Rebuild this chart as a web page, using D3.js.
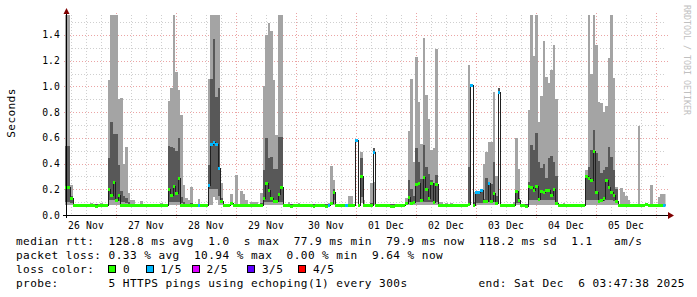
<!DOCTYPE html>
<html><head><meta charset="utf-8">
<script src="https://cdn.jsdelivr.net/npm/d3@7"></script>
<style>
html,body{margin:0;padding:0;background:#fff;}
svg{display:block;font-family:"DejaVu Sans Mono",monospace;}
</style></head><body>
<svg id="c" width="697" height="297"></svg>
<script>
// ---- data ----
const dayLabels = ["26 Nov","27 Nov","28 Nov","29 Nov","30 Nov","01 Dec","02 Dec","03 Dec","04 Dec","05 Dec"];
const yTickValues = [0.0,0.2,0.4,0.6,0.8,1.0,1.2,1.4];
const yTickLabels = ["0.0","0.2","0.4","0.6","0.8","1.0","1.2","1.4"];
const firstHour = 3.6; // first hourly bucket, hours after 26 Nov 00:00

const ping1 = [
.075,.075,.075,.076,.076,.076,.076,.076,.076,.076,
.076,.076,.076,.076,.076,.076,.076,.08,.08,.08,
.08,.08,.08,.08,.08,.078,.076,.076,.076,.076,
.076,.076,.076,.076,.076,.076,.076,.076,.076,.076,
.076,.08,.08,.08,.08,.08,.08,.076,.076,.076,
.076,.076,.076,.076,.076,.076,.076,.08,.08,.14,
.12,.08,.08,.076,.076,.076,.076,.076,.076,.076,
.076,.076,.076,.076,.076,.076,.076,.076,.076,.08,
.08,.08,.08,.08,.08,.08,.08,.076,.076,.076,
.076,.076,.076,.076,.076,.076,.076,.076,.076,.076,
.076,.076,.076,.076,.076,.076,.08,.08,.076,.076,
.076,.076,.076,.076,.076,.076,.58,.076,.09,.076,
.076,.076,.076,.08,.076,.076,.076,.076,.076,.076,
.076,.076,.076,.076,.076,.076,.076,.08,.08,.08,
.08,.08,.08,.08,.08,.08,.08,.08,.08,.076,
.076,.076,.076,.076,.076,.076,.076,.076,.076,.076,
.076,.075,1.0,.076,.08,.08,.08,.08,.08,.08,
.08,.08,.08,.95,.076,.076,.076,.076,.076,.076,
.08,.08,.076,.076,.076,.08,.08,.08,.08,.08,
.08,.08,.08,.08,.08,.08,.08,.076,.076,.076,
.076,.076,.076,.076,.076,.076,.076,.076,.08,.08,
.08,.08,.08,.08,.08,.08,.08,.08,.08,.08,
.08,.076,.076,.076,.076,.076,.076,.076,.076,.076,
.076,.076,.076,.076,.076,.076,.076,.076,.076,.076,
.076];
const ping2 = [
.10,.10,.09,.078,.078,.078,.078,.078,.078,.078,
.078,.078,.078,.078,.078,.078,.078,.12,.12,.12,
.11,.11,.10,.10,.09,.085,.078,.078,.078,.078,
.078,.078,.078,.078,.078,.078,.078,.078,.078,.078,
.078,.10,.10,.10,.10,.10,.09,.078,.078,.078,
.078,.078,.078,.078,.078,.078,.078,.20,.20,.20,
.20,.15,.09,.078,.078,.078,.078,.078,.078,.078,
.078,.078,.078,.078,.078,.078,.078,.078,.078,.10,
.10,.10,.10,.10,.10,.10,.10,.078,.078,.078,
.078,.078,.078,.078,.078,.078,.078,.078,.078,.078,
.078,.078,.078,.078,.078,.078,.085,.12,.078,.078,
.078,.078,.078,.078,.078,.078,.58,.078,.14,.078,
.078,.078,.078,.49,.078,.078,.078,.078,.078,.078,
.078,.078,.078,.078,.078,.078,.078,.10,.09,.09,
.10,.10,.10,.10,.10,.10,.10,.09,.10,.078,
.078,.078,.078,.078,.078,.078,.078,.078,.078,.078,
.078,.08,1.0,.078,.09,.09,.09,.09,.10,.10,
.10,.10,.09,.946,.078,.078,.078,.078,.078,.078,
.09,.09,.078,.078,.078,.12,.12,.12,.12,.12,
.12,.12,.12,.12,.12,.12,.10,.078,.078,.078,
.078,.078,.078,.078,.078,.078,.078,.078,.12,.12,
.12,.12,.12,.11,.11,.11,.12,.12,.12,.11,
.09,.078,.078,.078,.078,.078,.078,.078,.078,.078,
.078,.078,.078,.078,.078,.078,.078,.078,.078,.078,
.078];
const median = [
.22,.22,.13,.08,.08,.08,.08,.08,.08,.08,
.08,.08,.072,.08,.075,.08,.08,.20,.155,.26,
.117,.155,.08,.08,.08,.08,.08,.08,.08,.08,
.08,.08,.08,.08,.075,.08,.08,.08,.08,.08,
.08,.20,.155,.225,.17,.285,.08,.08,.08,.08,
.08,.08,.08,.08,.08,.08,.08,.233,.555,.57,
.55,.365,.11,.08,.08,.08,.095,.08,.08,.08,
.08,.08,.08,.08,.08,.08,.08,.08,.08,.13,
.25,.195,.13,.105,.105,.163,.215,.08,.08,.08,
.072,.08,.08,.08,.08,.08,.08,.08,.08,.072,
.08,.08,.08,.08,.072,.08,.09,.18,.08,.08,
.08,.08,.08,.08,.08,.08,.585,.08,.305,.08,
.08,.08,.08,.49,.08,.08,.08,.08,.08,.08,
.072,.072,.08,.08,.08,.08,.09,.137,.09,.10,
.24,.25,.12,.293,.20,.13,.25,.10,.24,.08,
.08,.08,.08,.08,.08,.08,.08,.08,.08,.08,
.08,.085,1.01,.08,.176,.176,.195,.11,.11,.25,
.11,.17,.09,.96,.08,.08,.08,.08,.08,.08,
.185,.12,.08,.08,.07,.225,.22,.195,.228,.125,
.19,.18,.195,.195,.155,.205,.09,.08,.08,.08,
.08,.08,.08,.075,.08,.08,.08,.08,.30,.29,
.27,.50,.18,.11,.12,.135,.27,.22,.18,.157,
.11,.08,.08,.08,.08,.08,.08,.08,.08,.08,
.08,.08,.085,.08,.08,.08,.08,.08,.08,.08,
.08];
const ping4 = [
.54,.54,.15,.082,.082,.082,.082,.082,.082,.082,
.082,.082,.082,.082,.082,.082,.082,.44,.72,.63,
.63,.39,.19,.15,.13,.10,.082,.082,.082,.082,
.082,.082,.082,.082,.082,.082,.082,.082,.082,.082,
.082,.54,.53,.52,.50,.60,.14,.10,.082,.082,
.09,.082,.082,.082,.082,.082,.082,.39,1.06,1.37,
.92,.99,.13,.082,.082,.082,.082,.082,.082,.082,
.082,.082,.082,.082,.082,.082,.082,.082,.09,.35,
.60,.44,.45,.36,.36,.61,.61,.082,.082,.082,
.082,.082,.082,.082,.082,.082,.082,.082,.082,.082,
.082,.082,.082,.082,.082,.082,.10,.20,.082,.082,
.082,.082,.082,.082,.082,.082,.59,.082,.44,.082,
.082,.082,.09,.52,.082,.082,.082,.082,.082,.082,
.082,.082,.082,.082,.082,.082,.082,.27,.20,.15,
.52,.415,.28,.545,.375,.32,.27,.25,.31,.082,
.082,.082,.082,.082,.082,.082,.082,.082,.082,.082,
.082,.37,1.01,.10,.18,.18,.20,.125,.285,.24,
.24,.41,.15,.985,.082,.082,.082,.082,.082,.082,
.195,.13,.082,.082,.082,.255,.545,.505,.635,.415,
.363,.40,.285,.44,.46,.41,.30,.082,.082,.082,
.082,.082,.082,.082,.082,.082,.082,.082,.30,.376,
.505,.66,.48,.42,.33,.35,.375,.53,.45,.35,
.20,.082,.082,.082,.082,.082,.082,.082,.082,.082,
.082,.082,.082,.082,.082,.082,.082,.082,.082,.082,
.082];
const ping5 = [
1.6,1.6,.23,.086,.086,.086,.086,.086,.086,.086,
.095,.086,.086,.086,.09,.086,.086,1.05,1.6,1.6,
1.6,.90,.91,.40,.53,.17,.12,.12,.086,.086,
.105,.086,.086,.086,.086,.086,.086,.086,.092,.086,
.086,.89,.985,1.6,1.11,.97,.78,.23,.13,.12,
.22,.086,.086,.125,.086,.086,.086,1.06,1.6,1.6,
1.6,1.6,.25,.086,.086,.086,.165,.086,.31,.086,
.19,.165,.12,.086,.10,.10,.10,.086,.17,1.0,
1.40,1.49,1.43,1.05,.62,1.6,1.6,.086,.086,.10,
.086,.086,.086,.09,.086,.086,.086,.086,.086,.086,
.086,.086,.086,.086,.086,.09,.38,.27,.086,.086,
.086,.086,.086,.145,.145,.086,.59,.086,.49,.12,
.086,.086,.25,.26,.086,.086,.086,.086,.086,.086,
.086,.086,.086,.086,.086,.086,.13,.655,1.06,.415,
1.23,.88,.55,1.375,.93,.75,.505,.52,1.29,.10,
.10,.086,.095,.086,.09,.086,.086,.086,.086,.086,
.086,1.17,1.01,.175,.18,.16,.20,.40,.49,.57,
.57,.96,.30,.985,.086,.086,.086,.086,.086,.10,
.60,.355,.086,.086,.086,.82,1.6,1.236,1.6,.725,
.925,1.35,1.075,1.03,1.13,1.32,.90,.086,.086,.095,
.086,.086,.086,.086,.086,.086,.086,.086,.35,1.6,
1.10,1.6,1.32,.88,.87,.80,.85,1.22,1.6,1.063,
.22,.086,.21,.18,.15,.12,.086,.086,.086,.69,
.086,.086,.086,.086,.233,.086,.086,.14,.165,.165,
.165];
const loss = [
0,0,0,0,0,0,0,0,0,0, 0,0,0,0,0,0,0,0,0,0,
0,0,0,0,0,0,0,0,0,0, 0,0,0,0,0,0,0,0,0,0,
0,0,0,0,0,0,0,0,0,0, 0,0,0,1,0,0,0,1,1,1,
1,1,0,0,0,0,0,0,0,0, 0,0,0,0,0,0,0,0,0,0,
0,0,0,0,0,0,0,0,0,0, 0,0,0,0,0,0,0,0,0,0,
0,0,0,0,0,1,0,0,0,0, 0,0,1,0,0,0,1,0,0,0,
0,0,0,1,0,0,0,0,0,0, 0,0,0,0,0,0,0,0,0,0,
0,0,0,0,0,0,0,0,0,0, 0,0,0,0,0,0,0,0,0,0,
0,0,1,0,1,1,1,0,0,1, 0,0,0,1,0,0,0,0,0,0,
0,0,0,0,0,0,0,0,0,0, 0,0,0,0,0,0,0,0,0,0,
0,0,0,0,0,0,0,0,0,0, 0,0,0,0,0,0,0,0,0,0,
0,0,0,0,0,0,0,0,0,0, 0,0,0,0,0,0,0,0,0,1,
1];
const lossColors = ["#26ff00","#00b8ff","#dd00ff","#5e00ff","#ff0000"];
const lossLabels = ["0","1/5","2/5","3/5","4/5"];
const legendRtt  = "median rtt:  128.8 ms avg  1.0  s max  77.9 ms min  79.9 ms now  118.2 ms sd  1.1   am/s";
const legendLoss = "packet loss: 0.33 % avg  10.94 % max  0.00 % min  9.64 % now";
const legendProbe = "probe:       5 HTTPS pings using echoping(1) every 300s";
const legendEnd = "end: Sat Dec  6 03:47:38 2025";

// ---- layout ----
const L=65.5,R=665.5,T=15,B=215;
const x=d3.scaleLinear().domain([3.794,243.794]).range([L,R]);
const y=d3.scaleLinear().domain([0,200/128.6]).range([B,T]);
const svg=d3.select("#c");
svg.append("rect").attr("width",697).attr("height",297).attr("fill","#fff");
const nb=s=>s.replace(/ /g,"\u00a0");

// grid
const grid=svg.append("g").attr("fill","none").attr("stroke-dasharray","1,2").attr("shape-rendering","crispEdges");
const minorH=d3.range(1,16).filter(k=>k%2===1).map(k=>k/10);
grid.selectAll(".mh").data(minorH).join("line")
  .attr("x1",L).attr("x2",R).attr("y1",d=>Math.round(y(d))+0.5).attr("y2",d=>Math.round(y(d))+0.5)
  .attr("stroke","#cfcfcf");
const minorV=d3.range(6,244,6).filter(h=>h%24!==0&&x(h)>L&&x(h)<R);
grid.selectAll(".mv").data(minorV).join("line")
  .attr("x1",d=>Math.round(x(d))+0.5).attr("x2",d=>Math.round(x(d))+0.5).attr("y1",T).attr("y2",B)
  .attr("stroke","#cfcfcf");
grid.selectAll(".Mh").data(yTickValues.slice(1)).join("line")
  .attr("x1",L-2).attr("x2",R+3).attr("y1",d=>Math.round(y(d))+0.5).attr("y2",d=>Math.round(y(d))+0.5)
  .attr("stroke","#eba4a4");
const majorV=d3.range(24,244,24).filter(h=>x(h)<R);
grid.selectAll(".Mv").data(majorV).join("line")
  .attr("x1",d=>Math.round(x(d))+0.5).attr("x2",d=>Math.round(x(d))+0.5).attr("y1",T-2).attr("y2",B+3)
  .attr("stroke","#eba4a4");

// data
svg.append("defs").append("clipPath").attr("id","pc").append("rect")
  .attr("x",65).attr("y",T).attr("width",R-65).attr("height",B-T);
const g=svg.append("g").attr("clip-path","url(#pc)").attr("shape-rendering","crispEdges");
const idx=d3.range(median.length);
const x0=i=>Math.round(x(firstHour+i)), x1=i=>Math.round(x(firstHour+i+1));
const yr=v=>Math.round(y(v));
function band(lo,hi,color){
  g.append("g").selectAll("rect").data(idx.filter(i=>Math.abs(yr(hi[i])-yr(lo[i]))>=1)).join("rect")
    .attr("x",i=>x0(i)).attr("width",i=>x1(i)-x0(i))
    .attr("y",i=>Math.min(yr(lo[i]),yr(hi[i]))).attr("height",i=>Math.abs(yr(lo[i])-yr(hi[i])))
    .attr("fill",color);
}
band(ping1,ping5,"#a4a4a4");
band(ping2,ping4,"#585858");
const pts=idx.map(i=>[x0(i)+0.5,yr(median[i])+0.5]);
pts.push([x1(median.length-1)+0.5,yr(median[median.length-1])+0.5]);
g.append("path").attr("d",d3.line().curve(d3.curveStepAfter)(pts))
  .attr("fill","none").attr("stroke","#202020").attr("stroke-width",1);
g.append("g").selectAll("rect").data(idx).join("rect")
  .attr("x",i=>x0(i)).attr("width",i=>x1(i)-x0(i))
  .attr("y",i=>yr(median[i])-1).attr("height",3)
  .attr("fill",i=>lossColors[loss[i]]);

// axes
const ax=svg.append("g").attr("shape-rendering","crispEdges");
ax.append("line").attr("x1",63).attr("x2",669).attr("y1",B+0.5).attr("y2",B+0.5).attr("stroke","#000");
ax.append("line").attr("x1",66.5).attr("x2",66.5).attr("y1",B+3).attr("y2",13).attr("stroke","#000");
svg.append("path").attr("d","M668,212L674,215.5L668,219Z").attr("fill","#7f0000");
svg.append("path").attr("d","M63.5,14L66.5,8L69.5,14Z").attr("fill","#7f0000");

// y labels
svg.append("g").selectAll("text").data(yTickValues).join("text")
  .attr("x",60).attr("y",d=>y(d)+3.5).attr("text-anchor","end")
  .attr("font-size",9.7).attr("letter-spacing",0.1).attr("fill","#000")
  .text((d,i)=>yTickLabels[i]);
// x labels
svg.append("g").selectAll("text").data(dayLabels).join("text")
  .attr("x",(d,i)=>x(24*i+12)).attr("y",229).attr("text-anchor","middle")
  .attr("font-size",9.7).attr("letter-spacing",0.15).attr("fill","#000")
  .text(d=>nb(d));

// axis title
svg.append("text").attr("transform","translate(14.5,113) rotate(-90)").attr("text-anchor","middle")
  .attr("font-size",11.1).attr("letter-spacing",0.4).text("Seconds");
// watermark
svg.append("text").attr("transform","translate(684,5) rotate(90)")
  .attr("font-size",8.3).attr("fill","#c0c0c0").text(nb("RRDTOOL / TOBI OETIKER"));

// legend
const lg=svg.append("g").attr("font-size",11.1).attr("letter-spacing",0.44);
lg.append("text").attr("x",16).attr("y",245).text(nb(legendRtt));
lg.append("text").attr("x",16).attr("y",259).text(nb(legendLoss));
lg.append("text").attr("x",16).attr("y",273).text(nb("loss color:"));
const boxX=[108.5,146,192,247.5,298.5];
lossLabels.forEach((t,k)=>{
  lg.append("rect").attr("x",boxX[k]).attr("y",265.5).attr("width",7).attr("height",7)
    .attr("fill",lossColors[k]).attr("stroke","#000").attr("stroke-width",1).attr("shape-rendering","crispEdges");
  lg.append("text").attr("x",boxX[k]+14.5).attr("y",273).text(t);
});
lg.append("text").attr("x",16).attr("y",287).text(nb(legendProbe));
lg.append("text").attr("x",478.5).attr("y",287).text(nb(legendEnd));
</script>
</body></html>
